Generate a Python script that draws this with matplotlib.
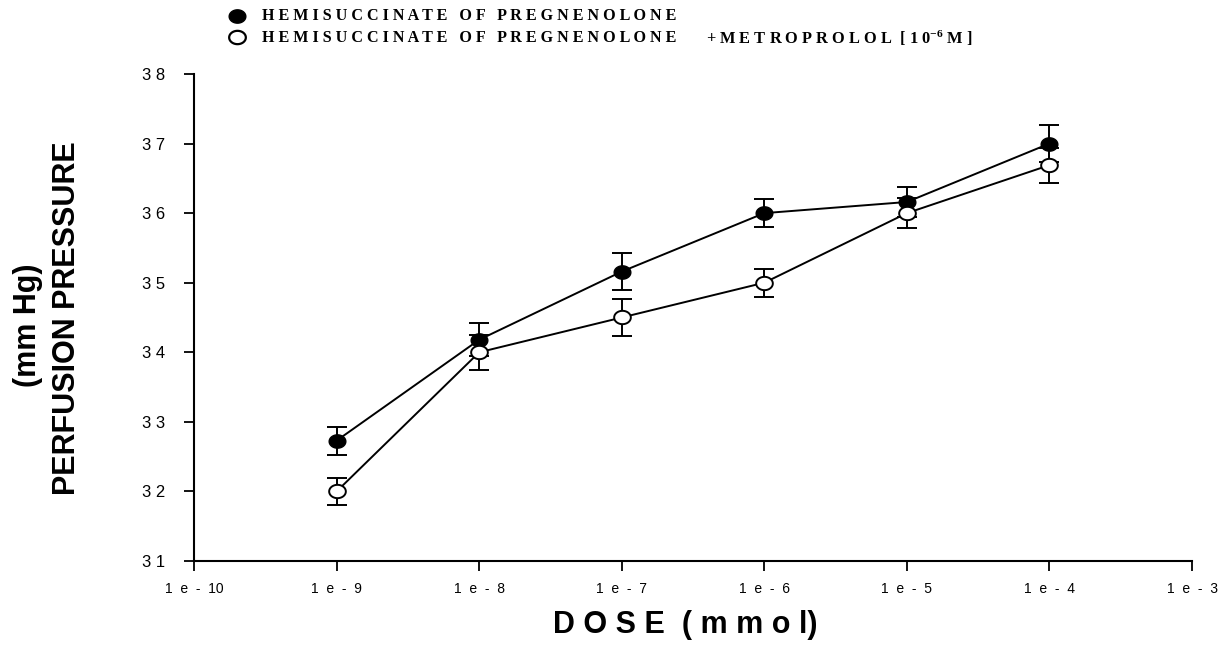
import matplotlib
matplotlib.use("Agg")
import matplotlib.pyplot as plt
import numpy as np
from matplotlib.path import Path

plt.rcParams['font.family'] = ['Liberation Sans', 'DejaVu Sans']
plt.rcParams['mathtext.fontset'] = 'custom'
plt.rcParams['mathtext.rm'] = 'Liberation Serif:bold'
plt.rcParams['mathtext.it'] = 'Liberation Serif:bold'
plt.rcParams['mathtext.bf'] = 'Liberation Serif:bold'

# data
dose = [1e-9, 1e-8, 1e-7, 1e-6, 1e-5, 1e-4]
preg_mean = [32.73, 34.18, 35.16, 36.0, 36.16, 37.0]
preg_err = [0.2, 0.24, 0.27, 0.2, 0.22, 0.26]
metro_mean = [32.0, 34.0, 34.5, 35.0, 36.0, 36.69]
metro_err = [0.2, 0.25, 0.26, 0.2, 0.22, 0.25]

xticks = [1e-10, 1e-9, 1e-8, 1e-7, 1e-6, 1e-5, 1e-4, 1e-3]
xticklabels = ["1  e  -  10", "1  e  -  9", "1  e  -  8", "1  e  -  7",
               "1  e  -  6", "1  e  -  5", "1  e  -  4", "1  e  -  3"]
yticks = [31, 32, 33, 34, 35, 36, 37, 38]
yticklabels = [" ".join(str(v)) for v in yticks]

# slightly flattened ellipse marker
t = np.linspace(0, 2 * np.pi, 60)
ellipse = Path(np.column_stack([np.cos(t), 0.8 * np.sin(t)]), closed=True)

fig = plt.figure(figsize=(12.18, 6.5), dpi=100)
ax = fig.add_axes([0.1593, 0.1369, 0.8194, 0.7493])

ax.errorbar(dose, preg_mean, yerr=preg_err, color='black', lw=1.4, elinewidth=1.4,
            capsize=7, capthick=1.4, marker=ellipse, ms=12, mfc='black', mec='black', zorder=3)
ax.errorbar(dose, metro_mean, yerr=metro_err, color='black', lw=1.4, elinewidth=1.4,
            capsize=7, capthick=1.4, marker=ellipse, ms=12, mfc='white', mec='black',
            mew=1.4, zorder=4)

ax.set_xscale('log')
ax.set_xlim(1e-10, 1e-3)
ax.set_ylim(31, 38)
ax.set_xticks(xticks)
ax.set_xticklabels(xticklabels, fontsize=10)
ax.minorticks_off()
ax.set_yticks(yticks)
ax.set_yticklabels(yticklabels, fontsize=12)
ax.tick_params(direction='out', length=7, width=1.3)
ax.tick_params(axis='x', pad=8)
ax.tick_params(axis='y', pad=14)

for side in ['top', 'right']:
    ax.spines[side].set_visible(False)
for side in ['left', 'bottom']:
    ax.spines[side].set_linewidth(1.5)

fig.text(685 / 1218, 1 - 625 / 650, "D O S E  ( m m o l)", ha='center', va='center',
         fontsize=22, fontweight='bold')
fig.text(67 / 1218, 1 - 318 / 650, "PERFUSION PRESSURE", rotation=90, ha='center', va='center',
         fontsize=22, fontweight='bold')
fig.text(28 / 1218, 1 - 325 / 650, "(mm Hg)", rotation=90, ha='center', va='center',
         fontsize=22, fontweight='bold')

# legend drawn at the top
def spaced(s):
    return " ".join(s)

legend_name = spaced("HEMISUCCINATE") + "   " + spaced("OF") + "   " + spaced("PREGNENOLONE")
fig.lines.append(plt.Line2D([237 / 1218], [1 - 16 / 650], transform=fig.transFigure,
                            marker=ellipse, ms=12, mfc='black', mec='black', ls='none'))
fig.lines.append(plt.Line2D([237 / 1218], [1 - 37 / 650], transform=fig.transFigure,
                            marker=ellipse, ms=12, mfc='white', mec='black', mew=1.6, ls='none'))
fig.text(262 / 1218, 1 - 16 / 650, legend_name,
         family='Liberation Serif', fontweight='bold', fontsize=11.6, va='center')
fig.text(262 / 1218, 1 - 38 / 650, legend_name,
         family='Liberation Serif', fontweight='bold', fontsize=11.6, va='center')
fig.text(706 / 1218, 1 - 38 / 650, "+ " + spaced("METROPROLOL") + "  [ 1 0$^{- 6}$ M ]",
         family='Liberation Serif', fontweight='bold', fontsize=11.8, va='center')

fig.savefig("out.png", dpi=100)
